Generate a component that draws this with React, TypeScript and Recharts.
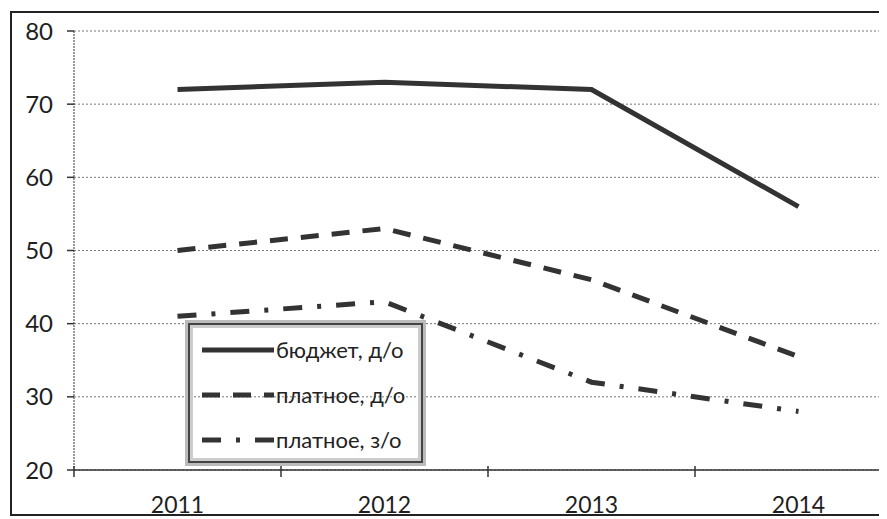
import React from 'react';
import { LineChart, Line, XAxis, YAxis, CartesianGrid, Legend } from 'recharts';

const categories = ['2011', '2012', '2013', '2014'];
const budgetFull = [72, 73, 72, 56];
const paidFull = [50, 53, 46, 35.5];
const paidPart = [41, 43, 32, 28];
const seriesNames = ['бюджет, д/о', 'платное, д/о', 'платное, з/о'];
const yTicks = [20, 30, 40, 50, 60, 70, 80];
const xTicks = [-0.5, 0, 0.5, 1, 1.5, 2, 2.5, 3, 3.5];

const data = categories.map((c, i) => ({
  idx: i,
  year: c,
  budgetFull: budgetFull[i],
  paidFull: paidFull[i],
  paidPart: paidPart[i],
}));

const series = [
  { key: 'budgetFull', name: seriesNames[0], dash: undefined as string | undefined },
  { key: 'paidFull', name: seriesNames[1], dash: '18 13' },
  { key: 'paidPart', name: seriesNames[2], dash: '19 15 4 15' },
];

const FONT = 'Lato, "Open Sans", sans-serif';
const INK = '#333';

const XTick = (props: any) => {
  const { x, y, payload } = props;
  const v = payload.value;
  if (Number.isInteger(v)) {
    return (
      <text x={x} y={y + 34} textAnchor="middle" dominantBaseline="central" fontFamily={FONT} fontSize={23} fill="#1e1e1e">
        {categories[v]}
      </text>
    );
  }
  return <line x1={x} x2={x} y1={y - 4} y2={y + 7} stroke={INK} strokeWidth={1.5} />;
};

const LegendBox = (props: any) => {
  const { payload } = props;
  return (
    <div
      style={{
        width: 235,
        height: 140,
        boxSizing: 'border-box',
        border: '2px solid #444',
        boxShadow: '0 0 0 3px #bbb, inset 0 0 0 3px #ccc',
        paddingTop: 2,
      }}
    >
      {(payload || []).map((p: any, i: number) => {
        const s = series.find((q) => q.key === p.dataKey) || series[i];
        return (
          <div key={i} style={{ display: 'flex', alignItems: 'center', height: 45 }}>
            <svg width={82} height={12} style={{ marginLeft: 8 }}>
              <line x1={4} x2={76} y1={6} y2={6} stroke={INK} strokeWidth={5} strokeDasharray={s.dash} />
            </svg>
            <span style={{ fontFamily: FONT, fontSize: 22, color: '#222', whiteSpace: 'nowrap', marginLeft: -4 }}>{p.value}</span>
          </div>
        );
      })}
    </div>
  );
};

export default function App() {
  return (
    <div style={{ position: 'relative', width: 879, height: 511, overflow: 'hidden', background: '#fff' }}>
      <div
        style={{
          position: 'absolute',
          left: 2,
          top: 3,
          width: 920,
          height: 505,
          border: '2px solid #222',
          boxSizing: 'border-box',
        }}
      />
      <div style={{ position: 'absolute', left: 0, top: 0 }}>
        <LineChart width={910} height={511} data={data} margin={{ top: 23, right: 16, left: 0, bottom: 0 }}>
          <CartesianGrid horizontal vertical={false} stroke="#777" strokeDasharray="2 2" />
          <XAxis
            dataKey="idx"
            type="number"
            domain={[-0.5, 3.5]}
            ticks={xTicks}
            interval={0}
            allowDataOverflow
            height={49}
            tickSize={0}
            tickMargin={0}
            tickLine={false}
            axisLine={{ stroke: INK, strokeWidth: 1.5 }}
            tick={<XTick />}
          />
          <YAxis
            domain={[20, 80]}
            ticks={yTicks}
            interval={0}
            width={66}
            tickSize={7}
            tickMargin={14}
            axisLine={{ stroke: '#555', strokeWidth: 1.2, strokeDasharray: '2 1' }}
            tickLine={{ stroke: INK, strokeWidth: 1.5 }}
            tick={{ fontFamily: FONT, fontSize: 24, fill: '#1e1e1e' }}
          />
          {series.map((s) => (
            <Line
              key={s.key}
              type="linear"
              dataKey={s.key}
              name={s.name}
              stroke={INK}
              strokeWidth={5}
              strokeDasharray={s.dash}
              dot={false}
              activeDot={false}
              isAnimationActive={false}
            />
          ))}
          <Legend
            layout="vertical"
            align="center"
            verticalAlign="middle"
            content={<LegendBox />}
            wrapperStyle={{ left: 180, top: 315, width: 235, height: 140 }}
          />
        </LineChart>
      </div>
    </div>
  );
}
